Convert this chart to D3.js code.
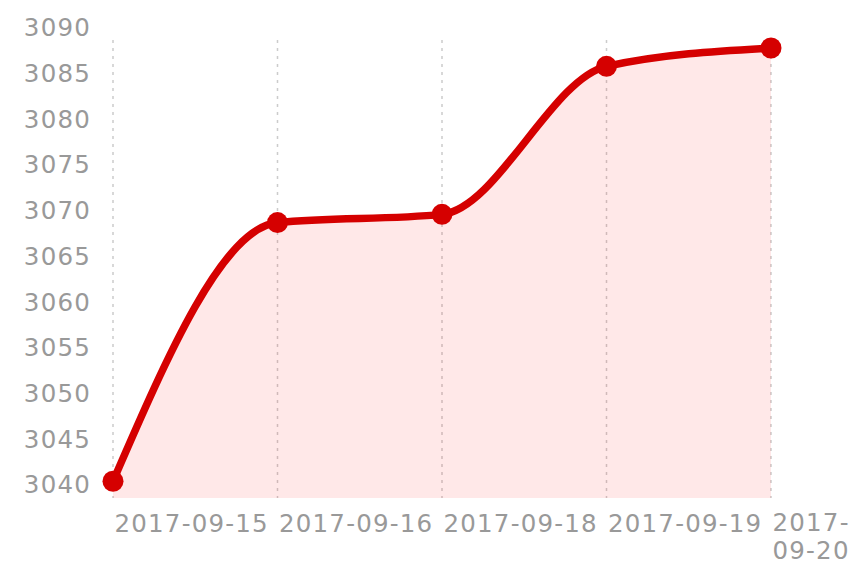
<!DOCTYPE html>
<html>
<head>
<meta charset="utf-8">
<script src="https://cdn.jsdelivr.net/npm/d3@7"></script>
<style>
  html, body { margin: 0; padding: 0; background: #fff; }
  svg { display: block; }
  .tick text { font-family: "DejaVu Sans", Verdana, sans-serif; font-size: 24.5px; letter-spacing: 1.2px; fill: #999999; }
</style>
</head>
<body>
<svg id="chart" width="851" height="562"></svg>
<script>
const dates = ['2017-09-15', '2017-09-16', '2017-09-18', '2017-09-19', '2017-09-20']
const values = [3040.3, 3068.6, 3069.5, 3085.7, 3087.7]
const yTicks = [3040, 3045, 3050, 3055, 3060, 3065, 3070, 3075, 3080, 3085, 3090]

const svg = d3.select('#chart')
const plotTop = 40
const plotBottom = 498

const x = d3.scalePoint()
  .domain(dates)
  .range([113, 771])

const y = d3.scaleLinear()
  .domain([3040, 3090])
  .range([484, 27])

const lineColor = '#d50000'

// vertical dashed grid
svg.append('g')
  .selectAll('line')
  .data(dates)
  .enter()
  .append('line')
  .attr('x1', d => x(d))
  .attr('x2', d => x(d))
  .attr('y1', plotTop)
  .attr('y2', plotBottom)
  .attr('stroke', '#cccccc')
  .attr('stroke-width', 1.5)
  .attr('stroke-dasharray', '3,5')

const points = dates.map((d, i) => ({ date: d, value: values[i] }))

const area = d3.area()
  .x(d => x(d.date))
  .y0(plotBottom)
  .y1(d => y(d.value))
  .curve(d3.curveMonotoneX)

svg.append('path')
  .datum(points)
  .attr('d', area)
  .attr('fill', '#ff0000')
  .attr('fill-opacity', 0.09)

const line = d3.line()
  .x(d => x(d.date))
  .y(d => y(d.value))
  .curve(d3.curveMonotoneX)

svg.append('path')
  .datum(points)
  .attr('d', line)
  .attr('fill', 'none')
  .attr('stroke', lineColor)
  .attr('stroke-width', 7.5)
  .attr('stroke-linecap', 'round')

svg.append('g')
  .selectAll('circle')
  .data(points)
  .enter()
  .append('circle')
  .attr('cx', d => x(d.date))
  .attr('cy', d => y(d.value))
  .attr('r', 10.5)
  .attr('fill', lineColor)

// y axis labels
const yAxis = svg.append('g')
  .attr('transform', 'translate(91,0)')
  .call(d3.axisLeft(y).tickValues(yTicks).tickSize(0).tickPadding(0).tickFormat(d3.format('d')))
yAxis.select('.domain').remove()
yAxis.selectAll('.tick text').attr('dy', '0.36em')

// x axis labels, left aligned at each point
const xAxis = svg.append('g')
  .attr('transform', `translate(0,${plotBottom})`)
  .call(d3.axisBottom(x).tickSize(0).tickPadding(0))
xAxis.select('.domain').remove()
xAxis.selectAll('.tick text')
  .attr('text-anchor', 'start')
  .attr('x', 1)
  .attr('dy', '1.38em')
  .each(function (d, i) {
    if (i === dates.length - 1) {
      const t = d3.select(this)
      t.text(null)
      t.append('tspan').attr('x', 1).attr('dy', '1.34em').text(d.slice(0, 5))
      t.append('tspan').attr('x', 1).attr('dy', '1.14em').text(d.slice(5))
    }
  })
</script>
</body>
</html>
